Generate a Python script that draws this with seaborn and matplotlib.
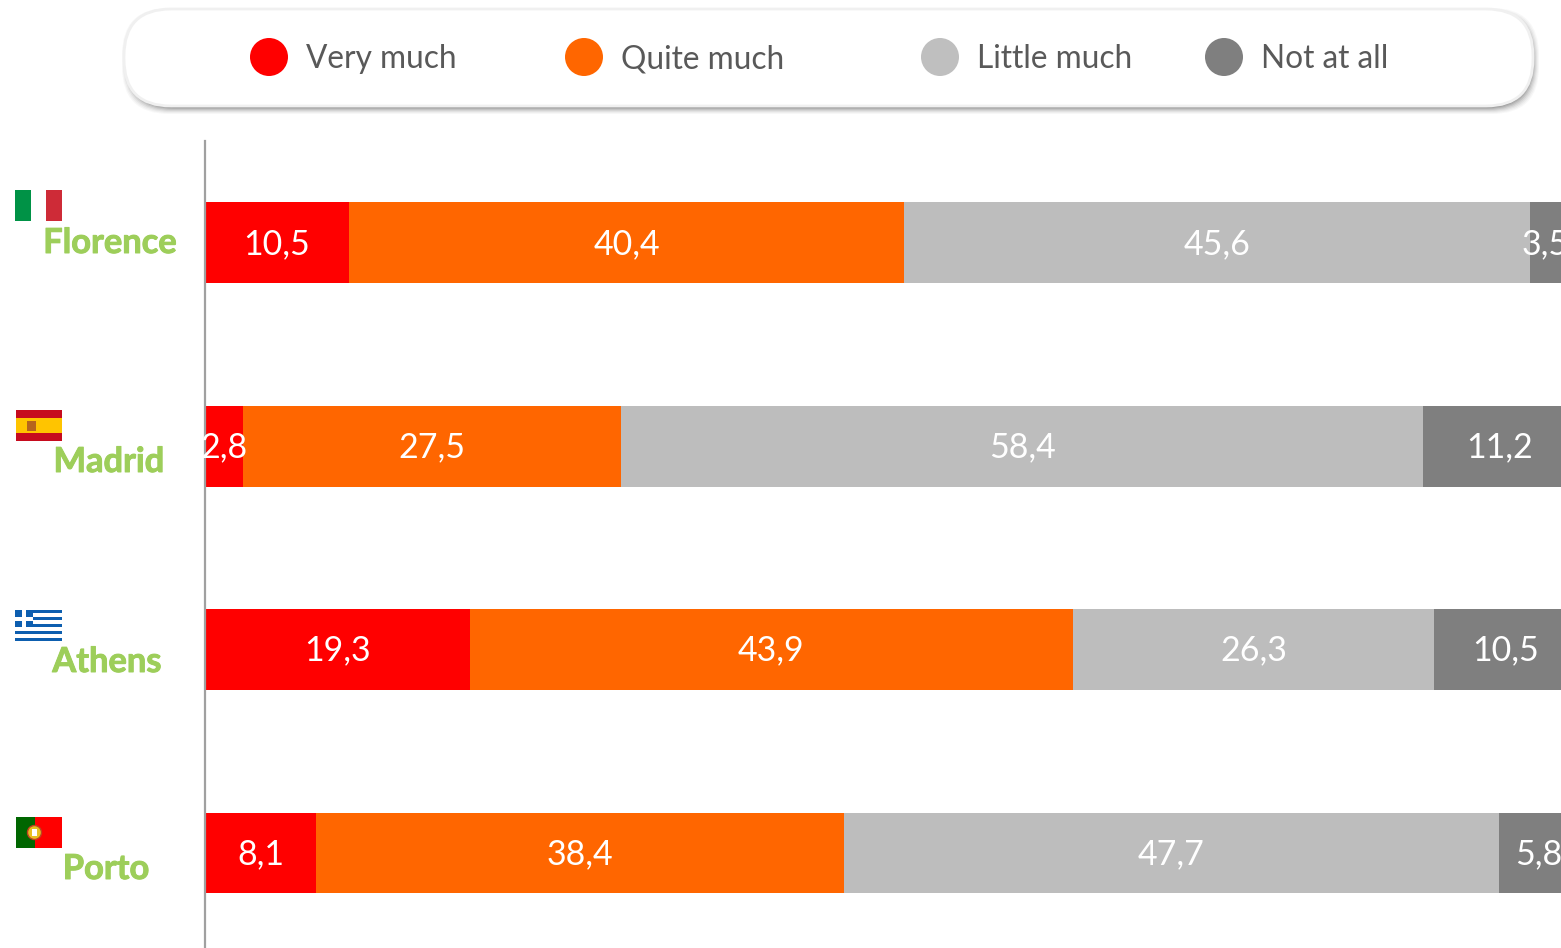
import numpy as np
import pandas as pd
import matplotlib.pyplot as plt
import matplotlib.patheffects as pe
from matplotlib.patches import Circle, FancyBboxPatch, Rectangle
import seaborn as sns

sns.set_theme(style="white")
plt.rcParams['font.family'] = ['Lato', 'DejaVu Sans']

cities = ["Florence", "Madrid", "Athens", "Porto"]
levels = ["Very much", "Quite much", "Little much", "Not at all"]
very_much = [10.5, 2.8, 19.3, 8.1]
quite_much = [40.4, 27.5, 43.9, 38.4]
little_much = [45.6, 58.4, 26.3, 47.7]
not_at_all = [3.5, 11.2, 10.5, 5.8]
my_palette = ["#ff0000", "#ff6600", "#bdbdbd", "#7f7f7f"]
green = "#9dce5a"

W, H = 1561, 948
fig = plt.figure(figsize=(W / 100, H / 100), dpi=100)

# overlay in pixel coords for the legend pill, flags and city names
bg = fig.add_axes([0, 0, 1, 1], zorder=3)
bg.set_xlim(0, W)
bg.set_ylim(H, 0)
bg.axis("off")
bg.patch.set_alpha(0)

ax = fig.add_axes([205 / W, 0, (W - 205) / W, (H - 141) / H], zorder=2)
ax.patch.set_alpha(0)

left = np.zeros(4)
df = pd.DataFrame({"city": cities})
for name, vals, col in zip(levels, [very_much, quite_much, little_much, not_at_all], my_palette):
    df["value"] = vals
    sns.barplot(data=df, y="city", x="value", color=col, saturation=1, width=0.398,
                errorbar=None, left=left, ax=ax, zorder=2, linewidth=0)
    for i, v in enumerate(vals):
        # bar_label centres on the clipped bar, so place these by hand
        dx = -6.5 if (name == "Not at all" and i == 0) else 0
        ax.annotate(f"{v:.1f}".replace(".", ","), (left[i] + v / 2, i), xytext=(dx, -0.8),
                    textcoords="offset points", ha="center", va="center", color="white",
                    fontsize=24.5, annotation_clip=False, zorder=4)
    left = left + np.array(vals)

ax.set_xlim(0, 98.75)
ax.set_ylim(3.467, -0.5)
ax.set_xlabel("")
ax.set_ylabel("")
ax.set_xticks([])
ax.set_yticks([])
sns.despine(ax=ax, top=True, right=True, bottom=True)
ax.spines["left"].set_color("#a0a0a0")
ax.spines["left"].set_linewidth(1.6)

# legend pill with soft shadow
for grow, alpha in [(6, 0.04), (5, 0.05), (4, 0.07), (3, 0.09), (2, 0.12), (1, 0.15), (0, 0.2)]:
    bg.add_patch(FancyBboxPatch((128, 14), 1405, 94, boxstyle=f"round,pad={grow},rounding_size=47",
                                fc="#4a4a4a", ec="none", alpha=alpha))
bg.add_patch(FancyBboxPatch((124, 9), 1409, 97, boxstyle="round,pad=0,rounding_size=47",
                            fc="white", ec="#f0f0f0", lw=2))
legend_x = [269, 584, 940, 1224]
text_x = [306, 621, 977, 1261]
legend_cols = ["#ff0000", "#ff6600", "#bfbfbf", "#7f7f7f"]
for lab, cx, tx, col in zip(levels, legend_x, text_x, legend_cols):
    bg.add_patch(Circle((cx, 57), 19, fc=col, ec="none"))
    bg.text(tx, 68, lab, ha="left", va="baseline", fontsize=22.8, color="#595959")

# city names
name_x = [110, 109, 107, 106]
name_y = [253, 472, 672, 879]
for c, x, y in zip(cities, name_x, name_y):
    bg.text(x, y, c, ha="center", va="baseline", fontsize=24.8, fontweight="bold", color=green,
            path_effects=[pe.withStroke(linewidth=0.7, foreground=green)])


def rect(x, y, w, h, col):
    bg.add_patch(Rectangle((x, y), w, h, fc=col, ec="none"))


# flags
rect(15, 190, 16, 31, "#009246")
rect(46, 190, 16, 31, "#ce2b37")

rect(16, 410, 46, 31, "#c60b1e")
rect(16, 418, 46, 15, "#ffc400")
rect(27, 421, 9, 10, "#b5651d")

for i in range(9):
    rect(15, 610 + i * 31 / 9, 47, 31 / 9, "#0d5eaf" if i % 2 == 0 else "white")
rect(15, 610, 18, 17, "#0d5eaf")
rect(22, 610, 4, 17, "white")
rect(15, 617, 18, 3.5, "white")

rect(16, 817, 46, 31, "#ff0000")
rect(16, 817, 19, 31, "#006600")
bg.add_patch(Circle((34.5, 832.5), 7, fc="#e8c020", ec="#c04020", lw=1))
rect(32, 829, 5, 7, "white")

fig.savefig("out.png", dpi=100)
